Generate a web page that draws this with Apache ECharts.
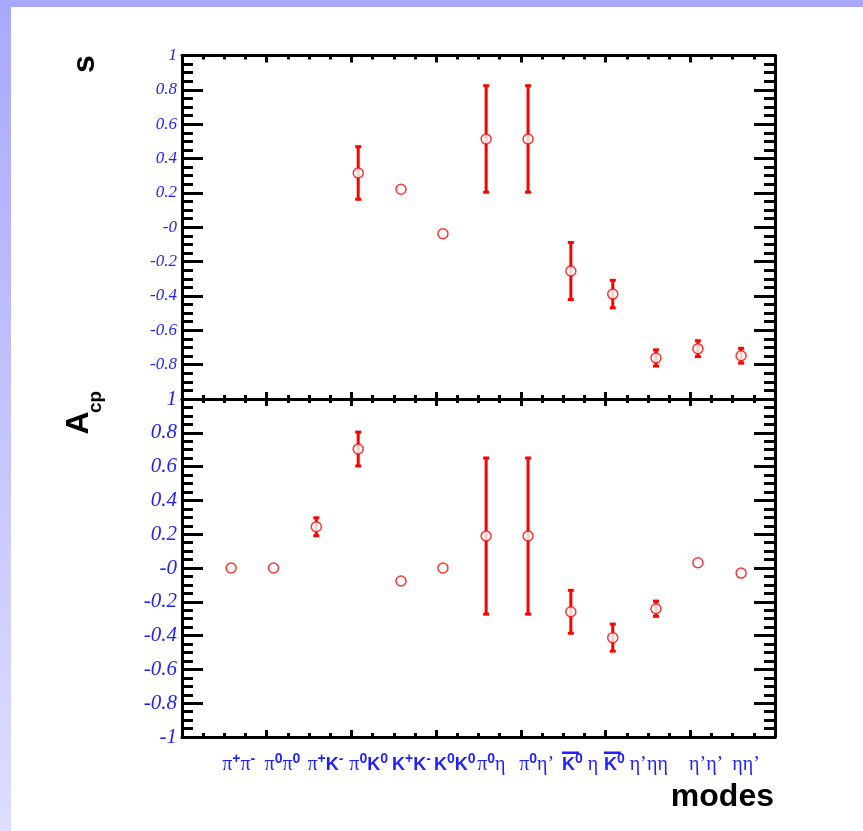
<!DOCTYPE html>
<html>
<head>
<meta charset="utf-8">
<script src="https://cdn.jsdelivr.net/npm/echarts@6/dist/echarts.min.js"></script>
<style>
  html, body { margin: 0; padding: 0; background: #fff; }
  #main { width: 863px; height: 831px; }
</style>
</head>
<body>
<div id="main"></div>
<script>
// x position of each decay mode (axis runs 0..14)
var modeX = [1.16, 2.16, 3.17, 4.16, 5.17, 6.16, 7.18, 8.17, 9.18, 10.17, 11.19, 12.18, 13.2]
var modeLabels = [
  '{pi|π}{sup|+}{pi|π}{sup|-}',
  '{pi|π}{sup|0}{pi|π}{sup|0}',
  '{pi|π}{sup|+}{k|K}{sup|-}',
  '{pi|π}{sup|0}{k|K}{sup|0}',
  '{k|K}{sup|+}{k|K}{sup|-}',
  '{k|K}{sup|0}{k|K}{sup|0}',
  '{pi|π}{sup|0}{pi|η}',
  '{pi|π}{sup|0}{pi|η’}',
  '{k|K}{supHi|0}{pi| η}',
  '{k|K}{supHi|0}{pi| η’}',
  '{pi|ηη}',
  '{pi|η’η’}',
  '{pi|ηη’}'
]
// modes whose K carries a bar (anti-K0)
var barredModes = [8, 9]
// S panel (no value for the first three modes)
var sValue = [null, null, null, 0.316, 0.221, -0.038, 0.514, 0.514, -0.255, -0.389, -0.761, -0.707, -0.748]
var sError = [null, null, null, 0.153, 0, 0, 0.31, 0.31, 0.166, 0.08, 0.047, 0.046, 0.043]
// Acp panel
var acpValue = [0.0, 0.0, 0.244, 0.704, -0.077, 0.0, 0.189, 0.189, -0.259, -0.412, -0.241, 0.031, -0.03]
var acpError = [0, 0, 0.053, 0.1, 0, 0, 0.462, 0.462, 0.127, 0.08, 0.045, 0, 0]

var BLUE = '#1f1fff'
var RED = '#ff0000'

function pointsOf(vals, errs) {
  var out = []
  for (var i = 0; i < vals.length; i++) {
    if (vals[i] === null) continue
    out.push([modeX[i], vals[i], errs[i]])
  }
  return out
}

function xAxisOf(grid, pos) {
  return {
    type: 'value', gridIndex: grid, position: pos, min: 0, max: 14, interval: 2,
    axisLine: { show: true, onZero: false, lineStyle: { color: '#000', width: 3 } },
    axisTick: { show: true, inside: true, length: 7, lineStyle: { color: '#000', width: 3 } },
    minorTick: { show: true, splitNumber: 4, length: 4, lineStyle: { color: '#000', width: 3 } },
    axisLabel: { show: false },
    splitLine: { show: false }
  }
}

function yAxisOf(grid, pos, fontSize, hideMin) {
  return {
    type: 'value', gridIndex: grid, position: pos, min: -1, max: 1, interval: 0.2,
    axisLine: { show: true, onZero: false, lineStyle: { color: '#000', width: 3 } },
    axisTick: { show: true, inside: true, length: 21, lineStyle: { color: '#000', width: 3 } },
    minorTick: { show: true, splitNumber: 4, length: 11, lineStyle: { color: '#000', width: 3 } },
    splitLine: { show: false },
    axisLabel: {
      show: pos === 'left',
      showMinLabel: true, showMaxLabel: true,
      margin: 5,
      color: BLUE,
      fontFamily: 'Liberation Serif',
      fontStyle: 'italic',
      fontSize: fontSize,
      formatter: function (v) {
        var r = Math.round(v * 10) / 10
        if (hideMin && r === -1) return ''
        if (r === 0) return '-0'
        return String(r)
      }
    }
  }
}

function renderErr(params, api) {
  var x = api.value(0), y = api.value(1), e = api.value(2)
  if (!e) return null
  var top = api.coord([x, y + e])
  var bot = api.coord([x, y - e])
  return {
    type: 'group',
    children: [
      { type: 'line', shape: { x1: top[0], y1: top[1], x2: bot[0], y2: bot[1] }, style: { stroke: RED, lineWidth: 3 } },
      { type: 'rect', shape: { x: top[0] - 3, y: top[1] - 1.5, width: 6, height: 3 }, style: { fill: RED } },
      { type: 'rect', shape: { x: bot[0] - 3, y: bot[1] - 1.5, width: 6, height: 3 }, style: { fill: RED } }
    ]
  }
}

var circleStyle = { color: '#fff', borderColor: RED, borderWidth: 1.5 }

var graphics = [
  { type: 'rect', shape: { x: 0, y: 0, width: 863, height: 7 }, style: { fill: '#a8a8ff' } },
  {
    type: 'rect', shape: { x: 0, y: 0, width: 11, height: 831 },
    style: { fill: new echarts.graphic.LinearGradient(0, 0, 0, 1, [
      { offset: 0, color: '#a8a8ff' },
      { offset: 1, color: '#dedeff' }
    ]) }
  },
  { type: 'text', x: 85, y: 64, rotation: Math.PI / 2,
    style: { text: 's', fontFamily: 'Liberation Sans', fontWeight: 'bold', fontSize: 32, fill: '#000', align: 'center', verticalAlign: 'middle' } },
  { type: 'text', x: 79, y: 423, rotation: Math.PI / 2,
    style: { text: 'A', fontFamily: 'Liberation Sans', fontWeight: 'bold', fontSize: 32, fill: '#000', align: 'center', verticalAlign: 'middle' } },
  { type: 'text', x: 96, y: 402, rotation: Math.PI / 2,
    style: { text: 'cp', fontFamily: 'Liberation Sans', fontWeight: 'bold', fontSize: 19, fill: '#000', align: 'center', verticalAlign: 'middle' } },
  { type: 'text', x: 774, y: 797,
    style: { text: 'modes', fontFamily: 'Liberation Sans', fontWeight: 'bold', fontSize: 32, fill: '#000', align: 'right', verticalAlign: 'middle' } }
]

var chart = echarts.init(document.getElementById('main'))
var option = {
  animation: false,
  backgroundColor: '#fff',
  grid: [
    { left: 182, width: 593, top: 55.5, height: 343.5 },
    { left: 182, width: 593, top: 399, height: 338 }
  ],
  xAxis: [
    xAxisOf(0, 'bottom'),
    xAxisOf(0, 'top'),
    xAxisOf(1, 'top'),
    xAxisOf(1, 'bottom'),
    {
      // label-only axis, shifted so labels start a little left of each point
      type: 'value', gridIndex: 1, position: 'bottom', min: 0.21, max: 14.21,
      axisLine: { show: false }, axisTick: { show: false }, splitLine: { show: false },
      axisLabel: {
        show: true,
        customValues: modeX,
        align: 'left',
        margin: 15,
        formatter: function (v) {
          var i = modeX.indexOf(v)
          return i < 0 ? '' : modeLabels[i]
        },
        rich: {
          pi: { fontFamily: 'Liberation Serif', fontSize: 20, color: BLUE, lineHeight: 26 },
          k: { fontFamily: 'Liberation Sans', fontWeight: 'bold', fontSize: 18, color: BLUE, lineHeight: 26 },
          sup: { fontFamily: 'Liberation Sans', fontWeight: 'bold', fontSize: 14, color: BLUE, lineHeight: 8, verticalAlign: 'top' },
          supHi: { fontFamily: 'Liberation Sans', fontWeight: 'bold', fontSize: 14, color: BLUE, lineHeight: 2, verticalAlign: 'top' }
        }
      }
    }
  ],
  yAxis: [
    yAxisOf(0, 'left', 17, true),
    yAxisOf(0, 'right', 17, true),
    yAxisOf(1, 'left', 21, false),
    yAxisOf(1, 'right', 21, false)
  ],
  graphic: graphics,
  series: [
    { type: 'custom', xAxisIndex: 0, yAxisIndex: 0, renderItem: renderErr, data: pointsOf(sValue, sError), encode: { x: 0, y: 1 }, z: 2 },
    { type: 'scatter', xAxisIndex: 0, yAxisIndex: 0, symbol: 'circle', symbolSize: 10, itemStyle: circleStyle, data: pointsOf(sValue, sError), z: 3 },
    { type: 'custom', xAxisIndex: 3, yAxisIndex: 2, renderItem: renderErr, data: pointsOf(acpValue, acpError), encode: { x: 0, y: 1 }, z: 2 },
    { type: 'scatter', xAxisIndex: 3, yAxisIndex: 2, symbol: 'circle', symbolSize: 10, itemStyle: circleStyle, data: pointsOf(acpValue, acpError), z: 3 }
  ]
}
chart.setOption(option)

// overline on the anti-K labels, placed from the label axis scale
barredModes.forEach(function (i) {
  var px = chart.convertToPixel({ xAxisIndex: 4 }, modeX[i])
  graphics.push({
    type: 'rect', shape: { x: px, y: 751.5, width: 17, height: 2.5 }, style: { fill: BLUE }
  })
})
chart.setOption({ graphic: graphics })
</script>
</body>
</html>
